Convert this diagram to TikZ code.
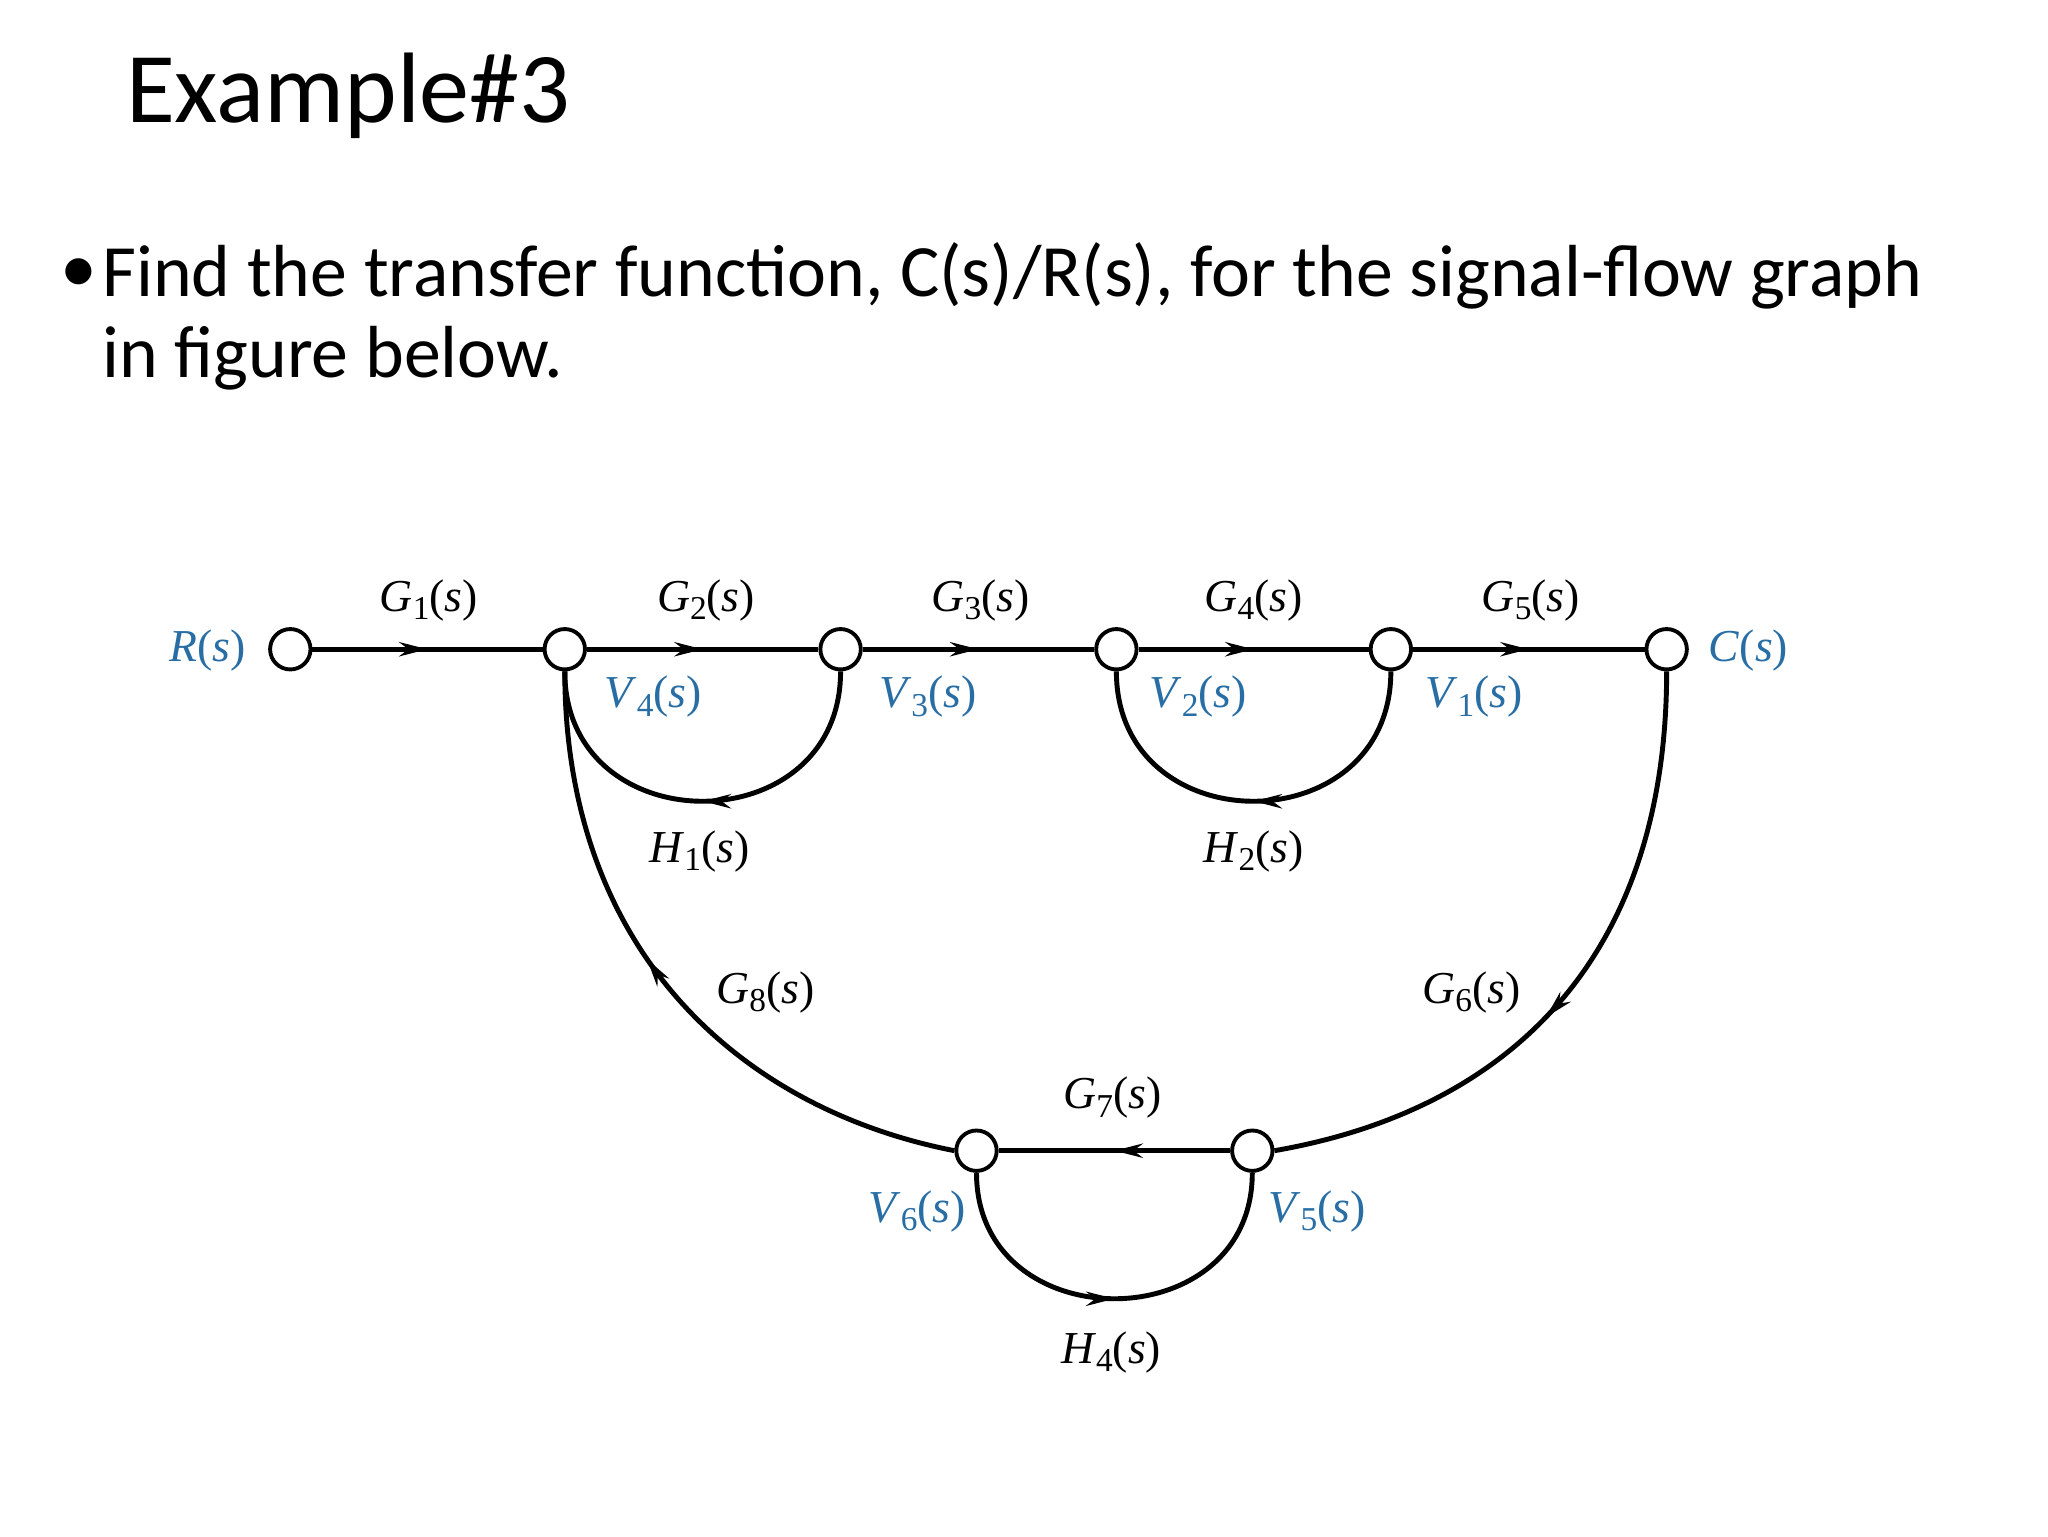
\documentclass[tikz,border=0pt]{standalone}
\usepackage{fontspec}
\setmainfont{Liberation Serif}
\newfontfamily\calfont{Carlito}
\usetikzlibrary{arrows.meta,decorations.markings}
\definecolor{lblue}{RGB}{40,110,165}
\newcommand{\lab}[2]{\textit{#1}\raisebox{-0.4ex}{\fontsize{9.5pt}{10pt}\selectfont #2}(\textit{s})}
\newcommand{\labn}[1]{\textit{#1}(\textit{s})}
\tikzset{
  sfnode/.style={circle,draw,line width=1.1pt,minimum size=11.5pt,inner sep=0pt,fill=white},
  br/.style={line width=1.4pt,postaction={decorate},decoration={markings,mark=at position #1 with {\arrow{Stealth[length=8pt,width=4pt]}}}},
  br/.default=0.5,
  gl/.style={font=\fontsize{13pt}{15pt}\selectfont},
  bl/.style={gl,text=lblue},
  slide/.style={anchor=base west,inner sep=0pt,font=\calfont\fontsize{21pt}{25pt}\selectfont},
}
\begin{document}
\begin{tikzpicture}[x=0.013196cm,y=-0.013196cm]
\useasboundingbox (0,0) rectangle (1552,1164);
\node[anchor=base west,inner sep=0pt,font=\calfont\fontsize{28.5pt}{32pt}\selectfont] (title) at (95,93) {Example\#3};
\node[slide] (bul) at (45,222) {•};
\node[slide] (q1) at (77,225) {Find the transfer function, C(s)/R(s), for the signal-flow graph};
\node[slide] (q2) at (77,286) {in figure below.};
\node[sfnode] (R) at (220,492) {};
\node[sfnode] (V4) at (428,492) {};
\node[sfnode] (V3) at (637,492) {};
\node[sfnode] (V2) at (846,492) {};
\node[sfnode] (V1) at (1054,492) {};
\node[sfnode] (C) at (1263,492) {};
\node[sfnode] (V6) at (740,872) {};
\node[sfnode] (V5) at (949,872) {};
\draw[br] (R) -- (V4);
\draw[br] (V4) -- (V3);
\draw[br] (V3) -- (V2);
\draw[br] (V2) -- (V1);
\draw[br] (V1) -- (C);
\draw[br] (V5) -- (V6);
\draw[br] (V3.south) .. controls (637,640) and (428,640) .. (V4.south);
\draw[br] (V1.south) .. controls (1054,640) and (846,640) .. (V2.south);
\draw[br] (V6.south) .. controls (740,1016) and (949,1016) .. (V5.south);
\draw[br=0.55] (C.south) .. controls (1263,720) and (1150,840) .. (V5.east);
\draw[br=0.55] (V6.west) .. controls (560,840) and (428,720) .. (V4.south);
\node[bl] (lR) at (157,493) {\labn{R}};
\node[bl] (lC) at (1325,493) {\labn{C}};
\node[gl] (g1) at (325,455) {\lab{G}{1}};
\node[gl] (g2) at (535,455) {\lab{G}{2}};
\node[gl] (g3) at (743,455) {\lab{G}{3}};
\node[gl] (g4) at (950,455) {\lab{G}{4}};
\node[gl] (g5) at (1160,455) {\lab{G}{5}};
\node[bl] (v4) at (495,528) {\lab{V}{4}};
\node[bl] (v3) at (703,528) {\lab{V}{3}};
\node[bl] (v2) at (908,528) {\lab{V}{2}};
\node[bl] (v1) at (1117,528) {\lab{V}{1}};
\node[gl] (h1) at (530,645) {\lab{H}{1}};
\node[gl] (h2) at (950,645) {\lab{H}{2}};
\node[gl] (g8) at (580,752) {\lab{G}{8}};
\node[gl] (g6) at (1115,752) {\lab{G}{6}};
\node[gl] (g7) at (843,832) {\lab{G}{7}};
\node[bl] (v6) at (695,918) {\lab{V}{6}};
\node[bl] (v5) at (998,918) {\lab{V}{5}};
\node[gl] (h4) at (842,1025) {\lab{H}{4}};
\end{tikzpicture}
\end{document}
